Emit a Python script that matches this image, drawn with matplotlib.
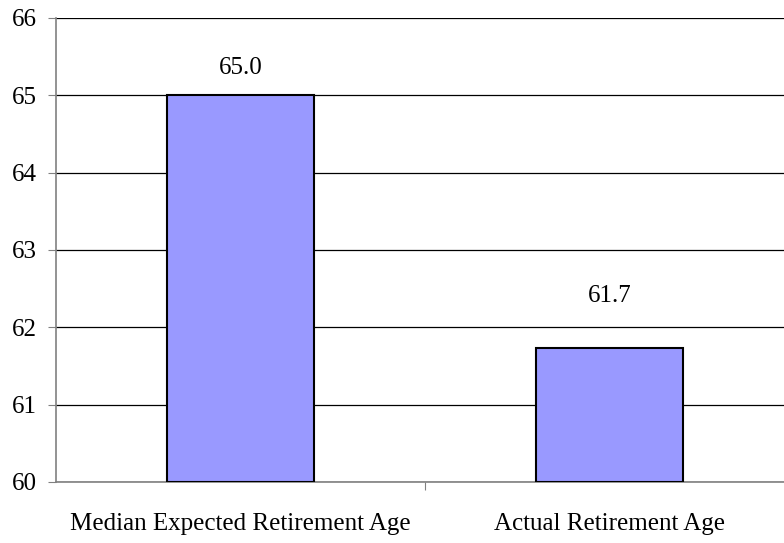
import matplotlib
matplotlib.use("Agg")
import matplotlib.pyplot as plt

categories = ["Median Expected Retirement Age", "Actual Retirement Age"]
values = [65.0, 61.73]
labels = ["65.0", "61.7"]
label_gap = [0.35, 0.67]  # gap above bar top, in data units

plt.rcParams['font.family'] = ['Liberation Serif', 'DejaVu Serif']

fig = plt.figure(figsize=(7.84, 5.43), dpi=100)
# axis runs a little past the right edge of the picture, as in the original
ax = fig.add_axes([56/784, (543-482)/543, 738/784, 464/543])

x = list(range(len(categories)))
ax.bar(x, [v - 60 for v in values], bottom=60, width=0.40,
       color='#9999FF', edgecolor='black', linewidth=1.5, zorder=3)
for xi, v, lab, g in zip(x, values, labels, label_gap):
    ax.text(xi, v + g, lab, ha='center', va='center', fontsize=18)

ax.set_ylim(60, 66)
ax.set_xlim(-0.5, 1.5)
ax.set_yticks(range(60, 67))
ax.yaxis.grid(True, color='black', linewidth=0.9, zorder=0)
ax.set_axisbelow(True)

ax.set_xticks([0.5], minor=False)
ax.set_xticklabels([])
ax.set_xticks(x, minor=True)
ax.set_xticklabels(categories, minor=True, fontsize=18)
ax.tick_params(axis='x', which='minor', length=0, pad=22)
ax.tick_params(axis='x', which='major', length=6, color='#808080', direction='out')
ax.tick_params(axis='y', labelsize=18, length=6, color='#808080', direction='out', pad=8)

for s in ['top', 'right']:
    ax.spines[s].set_visible(False)
for s in ['left', 'bottom']:
    ax.spines[s].set_color('#808080')
    ax.spines[s].set_linewidth(1.2)

fig.savefig("out.png", dpi=100)
